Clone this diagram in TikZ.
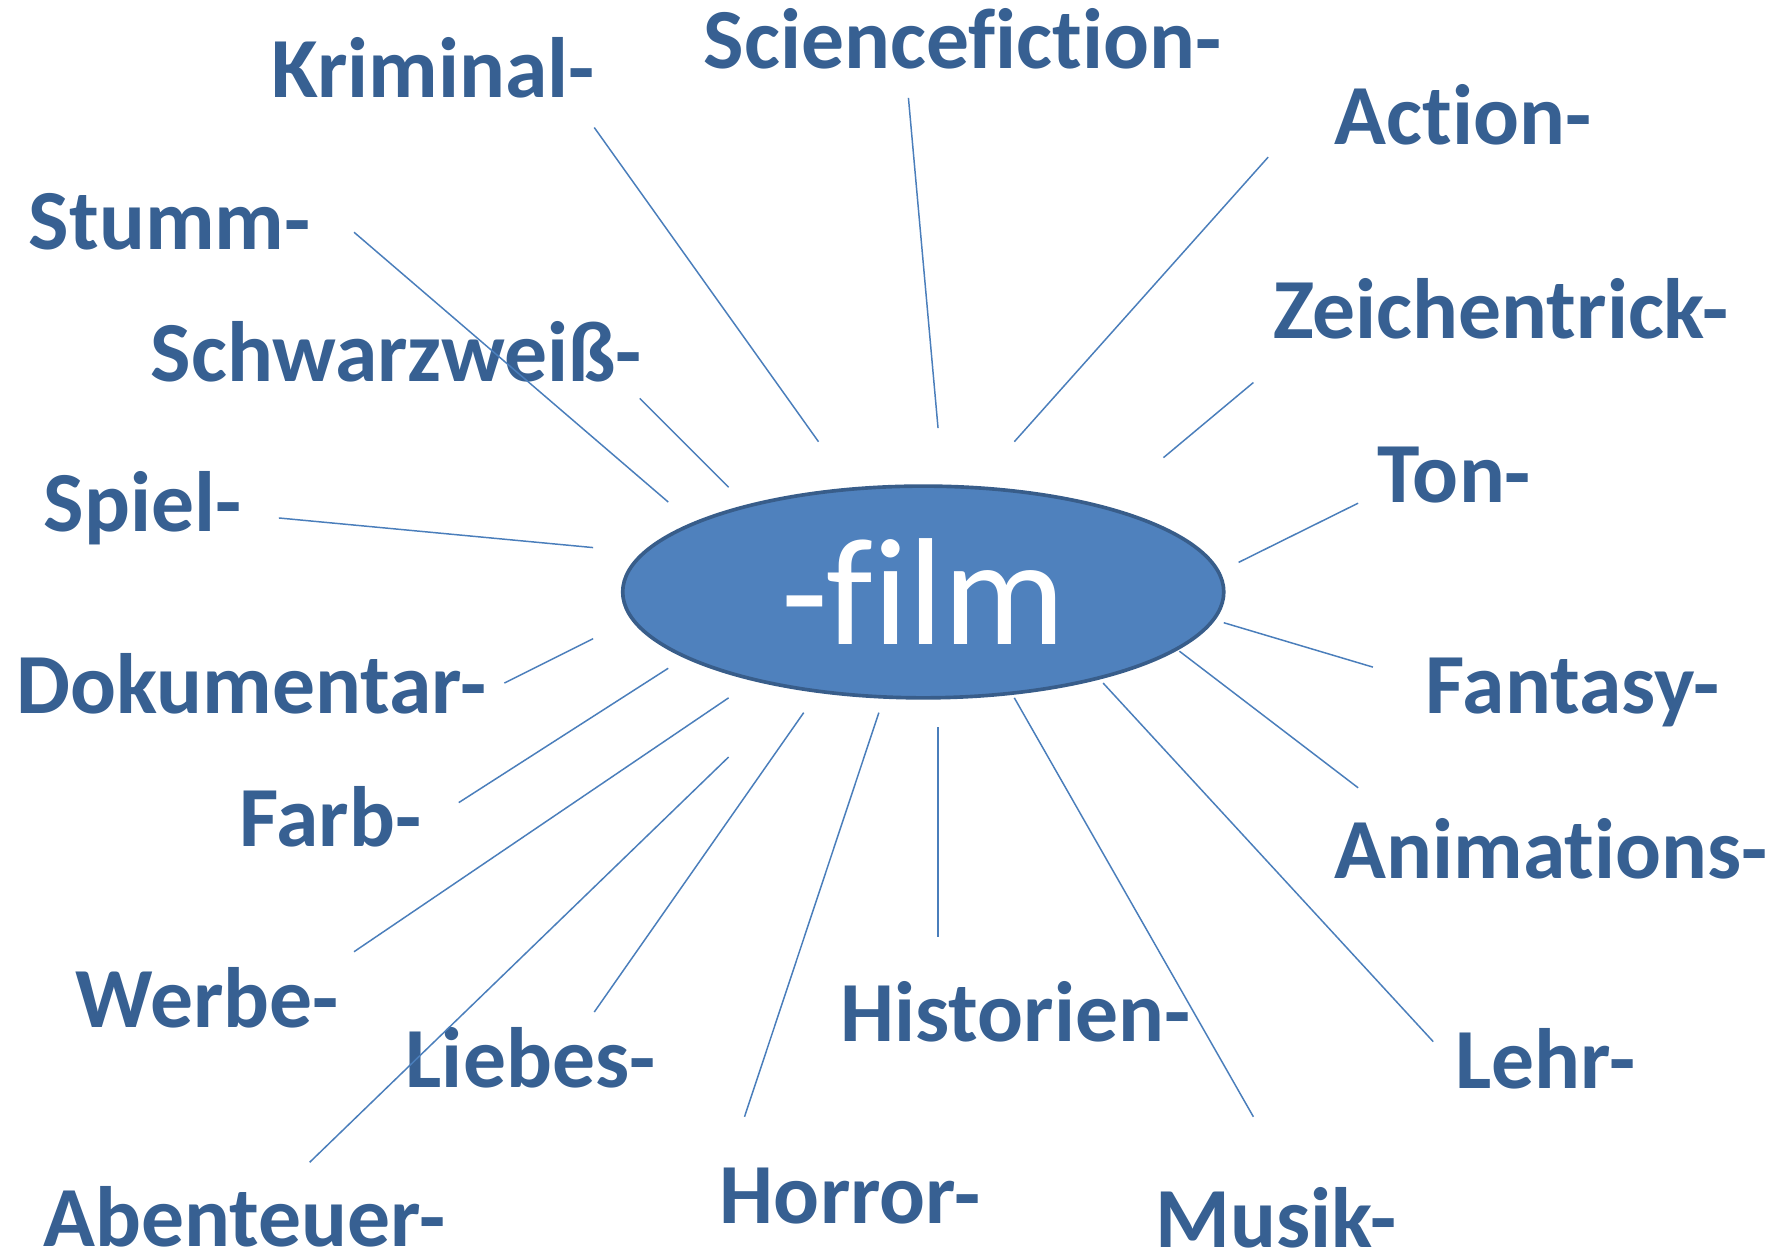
\documentclass[tikz,border=0pt]{standalone}
\usepackage{fontspec}
\setmainfont[Ligatures=NoCommon]{Carlito}
\usetikzlibrary{shapes.geometric}
\definecolor{lbl}{HTML}{376092}
\definecolor{ray}{HTML}{4A7EBB}
\definecolor{ellfill}{HTML}{4F81BD}
\definecolor{elldraw}{HTML}{385D8A}
\begin{document}
\begin{tikzpicture}[x=0.5pt,y=-0.5pt,
  word/.style={anchor=base west,inner sep=0pt,text=lbl,font=\fontsize{37.6}{44}\selectfont\bfseries},
  rayline/.style={draw=ray,line width=0.65pt},
  center/.style={ellipse,draw=elldraw,fill=ellfill,line width=1.6pt,minimum width=264pt,minimum height=93pt,inner sep=0pt,text=white,font=\fontsize{67}{70}\selectfont}]
\useasboundingbox (0,0) rectangle (1568,1105);
\fill[white] (0,0) rectangle (1568,1105);
\node[center] (film) at (811,520) {-f\kern0pt ilm};
% labels
\node[word] (krim) at (238,86) {Kriminal-};
\node[word] (scifi) at (618,60) {Sciencef\kern0pt ict\kern0pt ion-};
\node[word] (action) at (1172,127) {Act\kern0pt ion-};
\node[word] (stumm) at (25,219) {Stumm-};
\node[word] (schwarz) at (132,335) {Schwarzweiß-};
\node[word] (zeichen) at (1118,297) {Zeichentrick-};
\node[word] (spiel) at (38,467) {Spiel-};
\node[word] (ton) at (1210,441) {Ton-};
\node[word] (doku) at (14,627) {Dokumentar-};
\node[word] (fantasy) at (1252,627) {Fantasy-};
\node[word] (farb) at (210,744) {Farb-};
\node[word] (anim) at (1172,772) {Animat\kern0pt ions-};
\node[word] (werbe) at (66,903) {Werbe-};
\node[word] (liebes) at (356,955) {Liebes-};
\node[word] (hist) at (738,915) {Historien-};
\node[word] (lehr) at (1278,956) {Lehr-};
\node[word] (horror) at (632,1075) {Horror-};
\node[word] (musik) at (1015,1096) {Musik-};
\node[word] (abent) at (38,1095) {Abenteuer-};
% ray end points
\coordinate (krimA) at (522,112);   \coordinate (krimB) at (719,388);
\coordinate (scifiA) at (798,86);   \coordinate (scifiB) at (824,376);
\coordinate (actionA) at (1114,138);\coordinate (actionB) at (891,388);
\coordinate (stummA) at (311,204);  \coordinate (stummB) at (587,441);
\coordinate (schwA) at (562,350);   \coordinate (schwB) at (640,428);
\coordinate (zeichA) at (1101,336); \coordinate (zeichB) at (1022,402);
\coordinate (spielA) at (245,455);  \coordinate (spielB) at (521,481);
\coordinate (tonA) at (1193,442);   \coordinate (tonB) at (1088,494);
\coordinate (dokuA) at (443,600);   \coordinate (dokuB) at (521,561);
\coordinate (fantA) at (1206,586);  \coordinate (fantB) at (1075,547);
\coordinate (farbA) at (403,705);   \coordinate (farbB) at (587,587);
\coordinate (animA) at (1193,692);  \coordinate (animB) at (1036,572);
\coordinate (werbeA) at (311,836);  \coordinate (werbeB) at (640,613);
\coordinate (liebA) at (522,889);   \coordinate (liebB) at (706,626);
\coordinate (abentA) at (272,1021); \coordinate (abentB) at (640,665);
\coordinate (horrA) at (654,981);   \coordinate (horrB) at (772,626);
\coordinate (histA) at (824,823);   \coordinate (histB) at (824,639);
\coordinate (musA) at (1101,981);   \coordinate (musB) at (891,613);
\coordinate (lehrA) at (1259,915);  \coordinate (lehrB) at (969,600);
\foreach \a/\b in {krimA/krimB,scifiA/scifiB,actionA/actionB,stummA/stummB,schwA/schwB,zeichA/zeichB,spielA/spielB,tonA/tonB,dokuA/dokuB,fantA/fantB,farbA/farbB,animA/animB,werbeA/werbeB,liebA/liebB,abentA/abentB,horrA/horrB,histA/histB,musA/musB,lehrA/lehrB}
  \draw[rayline] (\a) -- (\b);
\end{tikzpicture}
\end{document}
